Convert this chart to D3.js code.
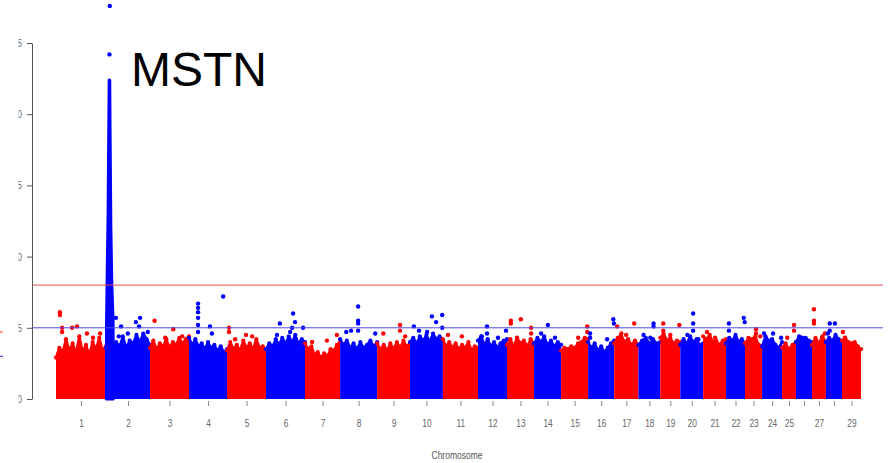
<!DOCTYPE html>
<html>
<head>
<meta charset="utf-8">
<script src="https://cdn.jsdelivr.net/npm/d3@7"></script>
<style>
  body { margin: 0; background: white; }
  svg { display: block; }
</style>
</head>
<body>
<script>
const chromosomes = ["1","2","3","4","5","6","7","8","9","10","11","12","13","14","15",
  "16","17","18","19","20","21","22","23","24","25","26","27","28","29"];
const chrLengths = [155,137,121,118,121,121,109,115,102,102,109,90,84,84,84,
  81,75,68,62,71,71,59,53,62,43,50,43,50,59];
// R drops labels that would overlap
const tickLabels = ["1","2","3","4","5","6","7","8","9","10","11","12","13","14","15",
  "16","17","18","19","20","21","22","23","24","25","","27","","29"];

// upper edge of the dense cloud of SNPs along each chromosome (-log10 p)
const cloudTops = [
  [2.9, 3.6, 3.3, 4.2, 3.4, 3.9, 3.2, 4.4, 3.3, 3.8, 3.1, 4.0, 3.5, 4.3, 3.4, 3.7],
  [3.6, 4.3, 3.5, 4.0, 3.7, 4.4, 3.6, 4.1, 3.9, 4.5, 4.0, 4.6, 4.2, 3.8],
  [3.6, 4.1, 3.5, 3.9, 3.7, 4.2, 3.6, 4.0, 3.8, 4.3, 3.9, 4.2, 4.4],
  [4.3, 3.8, 4.2, 3.7, 3.9, 3.5, 4.0, 3.6, 3.8, 3.4, 3.7, 3.3, 3.5],
  [3.4, 4.0, 3.5, 3.8, 3.4, 4.1, 3.6, 3.9, 3.5, 4.2, 3.6, 3.7, 3.3],
  [3.5, 3.9, 3.7, 4.2, 3.8, 4.3, 3.9, 4.4, 4.0, 4.5, 3.9, 4.2, 4.0],
  [3.9, 3.5, 3.7, 3.1, 3.3, 2.9, 3.2, 3.0, 3.5, 3.4, 3.8, 4.0],
  [4.2, 3.8, 4.1, 3.6, 3.9, 3.5, 4.0, 3.6, 3.8, 4.1, 3.7, 4.0],
  [3.9, 3.5, 3.8, 3.4, 3.9, 3.5, 4.0, 3.6, 4.1, 3.7, 3.9],
  [4.0, 4.3, 3.9, 4.4, 4.1, 4.5, 4.0, 4.6, 4.2, 4.4, 4.1],
  [4.2, 3.7, 4.0, 3.6, 3.9, 3.5, 3.8, 3.6, 4.0, 3.4, 3.7, 3.6],
  [4.1, 4.4, 3.8, 4.2, 3.7, 4.0, 3.6, 3.9, 4.1, 4.2],
  [3.8, 4.2, 3.7, 4.3, 3.9, 4.1, 3.7, 4.2, 3.9],
  [3.9, 4.3, 4.0, 4.4, 3.8, 4.1, 3.7, 4.0, 3.8],
  [3.4, 3.6, 3.5, 3.7, 3.6, 3.9, 4.0, 4.3, 4.2],
  [4.0, 3.6, 3.9, 3.4, 3.7, 3.3, 3.6, 3.9, 4.1],
  [3.9, 4.3, 4.5, 4.0, 4.2, 3.8, 4.1, 3.8],
  [3.8, 4.1, 4.3, 3.9, 4.2, 3.9, 4.0],
  [4.3, 4.6, 4.1, 4.3, 3.9, 4.1, 4.0],
  [3.8, 4.2, 3.9, 4.4, 4.0, 4.2, 3.8, 3.9],
  [4.4, 4.2, 4.5, 4.0, 4.1, 3.8, 4.1, 4.2],
  [3.9, 4.3, 4.1, 4.5, 4.0, 4.2, 3.9],
  [3.9, 4.3, 4.2, 4.4, 3.8, 3.7],
  [3.7, 4.4, 4.1, 4.2, 3.8, 3.6, 4.0],
  [3.6, 3.9, 3.5, 3.8, 4.0],
  [4.0, 4.4, 4.2, 4.3, 4.1, 4.0],
  [3.8, 4.3, 3.9, 4.4, 4.0],
  [4.0, 4.3, 4.1, 4.5, 4.2, 4.0],
  [4.1, 4.3, 4.0, 3.9, 4.0, 3.7, 3.5]
];

// isolated SNPs above the cloud: [chromosome, position Mb, -log10 p]
const hits = [
  [1,12,6.1],[1,12,5.9],[1,19,5.0],[1,19,4.7],[1,50,5.0],[1,65,5.1],[1,96,4.6],[1,115,4.3],[1,137,4.6],
  [2,31,5.7],[2,47,5.1],[2,40,4.4],[2,68,4.6],[2,93,5.4],[2,106,5.7],[2,103,5.1],[2,130,4.7],
  [3,14,5.5],[3,72,4.9],[3,47,4.3],[3,100,4.4],
  [4,28,6.7],[4,28,6.4],[4,28,6.1],[4,28,5.7],[4,28,5.2],[4,28,4.7],[4,106,7.2],[4,65,5.1],[4,71,4.6],
  [5,6,5.0],[5,6,4.7],[5,59,4.5],[5,25,4.2],[5,78,4.4],
  [6,43,5.3],[6,84,6.0],[6,90,5.4],[6,81,5.0],[6,115,5.0],[6,34,4.5],[6,75,4.7],
  [7,68,4.1],[7,99,4.5],[7,22,4.0],
  [8,56,6.5],[8,56,5.5],[8,56,5.3],[8,56,4.8],[8,34,4.8],[8,19,4.7],[8,109,4.6],
  [9,19,4.6],[9,71,5.2],[9,71,4.8],[9,87,4.4],
  [10,12,5.1],[10,28,4.8],[10,68,5.8],[10,81,5.4],[10,100,5.9],[10,100,5.0],[10,53,4.7],
  [11,16,4.5],[11,59,4.4],
  [12,28,5.1],[12,28,4.6],[12,62,4.3],[12,12,4.4],[12,87,4.8],
  [13,12,5.5],[13,12,5.3],[13,43,5.6],[13,75,5.0],[13,75,4.6],[13,31,4.3],
  [14,43,5.2],[14,22,4.6],[14,65,4.3],
  [15,53,4.3],[15,81,5.1],[15,81,4.7],
  [16,6,4.6],[16,6,4.3],[16,78,5.6],[16,80,5.3],[16,59,4.2],
  [17,9,5.1],[17,62,5.3],[17,22,4.6],[17,37,4.5],
  [18,47,5.3],[18,47,5.1],[18,16,4.5],[18,37,4.3],
  [19,9,5.3],[19,9,4.8],[19,59,5.2],[19,31,4.5],
  [20,40,6.0],[20,40,5.3],[20,40,4.8],[20,22,4.5],[20,56,4.2],
  [21,12,4.7],[21,37,4.3],
  [22,9,5.3],[22,9,4.8],[22,55,5.7],[22,58,5.4],
  [23,34,4.9],[23,34,4.6],[23,47,4.4],
  [24,6,4.6],[24,34,4.6],[24,59,4.3],
  [25,37,5.2],[25,37,4.8],[25,16,4.3],
  [26,19,4.3],
  [27,6,6.3],[27,6,5.5],[27,6,5.3],[27,31,4.3],[27,40,4.6],
  [28,12,5.3],[28,12,4.8],[28,28,5.3],[28,6,4.6],
  [29,3,4.7],[29,9,4.3]
];

// the MSTN signal near the start of chromosome 2
const peakPos = [2, 4, 7, 9.5, 10.5, 11.5, 12.5, 15, 18, 22];
const peakVal = [5.0, 8.5, 13.0, 20.0, 22.4, 22.4, 19.0, 12.0, 8.0, 5.5];
const topHitPos = [11, 12];
const topHitVal = [24.2, 27.6];

const yTicks = [0, 5, 10, 15, 20, 25];
const suggestiveLine = 5;
const genomewideLine = 8;

const width = 894, height = 463;
const colors = ["#ff0000", "#0000ff"];
const labelFont = "'Liberation Sans', Arial, sans-serif";
const squeeze = 0.76; // the original uses a narrow face

const offsets = d3.cumsum([0, ...chrLengths]);
const total = offsets[offsets.length - 1];

const x = d3.scaleLinear().domain([0, total]).range([56, 861]);
const y = d3.scaleLinear().domain([0, 25]).range([399, 43]);

const svg = d3.select("body").append("svg")
  .attr("width", width)
  .attr("height", height)
  .attr("font-family", labelFont);

// dense cloud per chromosome
const area = d3.area().x(d => x(d[0])).y0(y(0)).y1(d => y(d[1]));
const ridge = d3.line().x(d => x(d[0])).y(d => y(d[1]));

chromosomes.forEach((c, i) => {
  const tops = cloudTops[i];
  const pts = tops.map((v, j) => [offsets[i] + chrLengths[i] * j / (tops.length - 1), v]);
  const g = svg.append("g").attr("fill", colors[i % 2]);
  g.append("path").datum(pts).attr("d", area);
  g.append("path").datum(pts).attr("d", ridge)
    .attr("fill", "none").attr("stroke", colors[i % 2])
    .attr("stroke-width", 2.5).attr("stroke-linejoin", "round");
  g.selectAll("circle").data(pts).join("circle")
    .attr("cx", d => x(d[0])).attr("cy", d => y(d[1])).attr("r", 2.1);
});

// MSTN peak on chromosome 2
const peak = peakPos.map((p, i) => [offsets[1] + p, peakVal[i]]);
svg.append("path").datum(peak).attr("d", area).attr("fill", colors[1])
  .attr("stroke", colors[1]).attr("stroke-width", 3.2).attr("stroke-linejoin", "round");

// isolated SNPs
svg.append("g").selectAll("circle").data(hits).join("circle")
  .attr("cx", d => x(offsets[d[0] - 1] + d[1]))
  .attr("cy", d => y(d[2]))
  .attr("r", 2.2)
  .attr("fill", d => colors[(d[0] - 1) % 2]);

svg.append("g").selectAll("circle").data(topHitPos).join("circle")
  .attr("cx", d => x(offsets[1] + d))
  .attr("cy", (d, i) => y(topHitVal[i]))
  .attr("r", 2.2)
  .attr("fill", colors[1]);

// threshold lines
svg.append("line").attr("x1", 33).attr("x2", 883)
  .attr("y1", y(genomewideLine)).attr("y2", y(genomewideLine))
  .attr("stroke", "#e84a4a").attr("stroke-width", 1);
svg.append("line").attr("x1", 33).attr("x2", 883)
  .attr("y1", y(suggestiveLine)).attr("y2", y(suggestiveLine))
  .attr("stroke", "#4a4aee").attr("stroke-width", 1);

// y axis (labels cropped at the left edge like the original)
svg.append("defs").append("clipPath").attr("id", "leftcrop")
  .append("rect").attr("x", 18.5 - 32).attr("y", 0).attr("width", width).attr("height", height);

const yAxis = svg.append("g")
  .attr("transform", "translate(32,0)")
  .attr("clip-path", "url(#leftcrop)")
  .call(d3.axisLeft(y).tickValues(yTicks).tickSize(5).tickSizeOuter(0).tickPadding(5));
yAxis.select(".domain").attr("stroke", "#555");
yAxis.selectAll(".tick line").attr("stroke", "#555");
yAxis.selectAll(".tick text")
  .attr("fill", "#666").attr("font-size", 11).attr("font-family", labelFont)
  .attr("x", -10 / squeeze)
  .attr("transform", `scale(${squeeze},1)`);

// clipped remains of the margin legend
svg.append("line").attr("x1", 0).attr("x2", 3).attr("y1", y(4.7)).attr("y2", y(4.7))
  .attr("stroke", "#ff3030").attr("stroke-width", 1);
svg.append("line").attr("x1", 0).attr("x2", 3).attr("y1", y(3.0)).attr("y2", y(3.0))
  .attr("stroke", "#3030ff").attr("stroke-width", 1);

// x axis: ticks at the centre of each chromosome
const centers = chromosomes.map((c, i) => offsets[i] + chrLengths[i] / 2);
const xAxis = svg.append("g")
  .attr("transform", "translate(0,401)")
  .call(d3.axisBottom(x).tickValues(centers).tickSize(5).tickPadding(13)
    .tickFormat((d, i) => tickLabels[i]));
xAxis.select(".domain").remove();
xAxis.selectAll(".tick line").attr("stroke", "#888");
xAxis.selectAll(".tick text")
  .attr("fill", "#666").attr("font-size", 11).attr("font-family", labelFont)
  .attr("transform", `scale(${squeeze},1)`);

svg.append("text")
  .attr("x", 457).attr("y", 459)
  .attr("text-anchor", "middle")
  .attr("font-size", 11)
  .attr("fill", "#555")
  .attr("textLength", 51)
  .attr("lengthAdjust", "spacingAndGlyphs")
  .text("Chromosome");

svg.append("text")
  .attr("x", 131).attr("y", 86)
  .attr("font-family", labelFont)
  .attr("font-size", 48)
  .attr("fill", "#000")
  .text("MSTN");
</script>
</body>
</html>
